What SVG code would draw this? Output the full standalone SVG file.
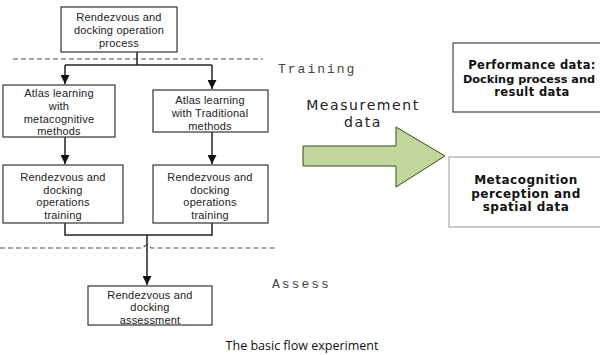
<svg xmlns="http://www.w3.org/2000/svg" width="600" height="355" viewBox="0 0 600 355">
<defs>
<style>
.box{fill:#fff;stroke:#333;stroke-width:1.2}
.t{font-family:"Liberation Sans",Arial,sans-serif;font-size:11px;fill:#222;text-anchor:middle;letter-spacing:0.2px}
.b{font-family:"DejaVu Sans",sans-serif;font-weight:bold;fill:#111;text-anchor:middle}
.m{font-family:"Liberation Mono",monospace;font-size:13px;fill:#444;letter-spacing:2px}
.ln{fill:none;stroke:#222;stroke-width:1.5}
.dash{fill:none;stroke:#555;stroke-width:1.2;stroke-dasharray:5,3}
</style>
<marker id="ah" viewBox="0 0 10 10" refX="10" refY="5" markerWidth="6" markerHeight="6" orient="auto" markerUnits="strokeWidth">
<path d="M0,0 L10,5 L0,10 z" fill="#111"/>
</marker>
</defs>
<rect width="600" height="355" fill="#fff"/>

<g id="separators">
<path class="dash" d="M13,59 H263"/>
<path class="dash" d="M0,248 H143 Q147,242 151,248 H277"/>
<text class="m" x="278" y="73">Training</text>
<text class="m" x="272" y="288">Assess</text>
</g>

<g id="connectors">
<path class="ln" d="M137,52 V65"/>
<path class="ln" d="M65,65 H212"/>
<path class="ln" d="M65,65 V84" marker-end="url(#ah)"/>
<path class="ln" d="M212,65 V89" marker-end="url(#ah)"/>
<path class="ln" d="M65,137 V164" marker-end="url(#ah)"/>
<path class="ln" d="M212,132 V164" marker-end="url(#ah)"/>
<path class="ln" d="M65,223 V235 H212 V223"/>
<path class="ln" d="M147,235 V285" marker-end="url(#ah)"/>
</g>

<g id="n-top">
<rect class="box" x="61" y="7" width="116" height="45"/>
<text class="t" x="119" y="21">Rendezvous and</text>
<text class="t" x="119" y="34">docking operation</text>
<text class="t" x="119" y="47">process</text>
</g>

<g id="n-meta">
<rect class="box" x="3" y="85" width="112" height="52"/>
<text class="t" x="59" y="97">Atlas  learning</text>
<text class="t" x="59" y="110">with</text>
<text class="t" x="59" y="122.7">metacognitive</text>
<text class="t" x="59" y="135.4">methods</text>
</g>

<g id="n-trad">
<rect class="box" x="153" y="90" width="115" height="42"/>
<text class="t" x="210" y="104">Atlas  learning</text>
<text class="t" x="210" y="117">with Traditional</text>
<text class="t" x="210" y="129.7">methods</text>
</g>

<g id="n-train1">
<rect class="box" x="3" y="165" width="120" height="58"/>
<text class="t" x="63" y="181">Rendezvous and</text>
<text class="t" x="63" y="193.7">docking</text>
<text class="t" x="63" y="206.4">operations</text>
<text class="t" x="63" y="219.1">training</text>
</g>

<g id="n-train2">
<rect class="box" x="153" y="165" width="115" height="58"/>
<text class="t" x="210" y="181">Rendezvous and</text>
<text class="t" x="210" y="193.7">docking</text>
<text class="t" x="210" y="206.4">operations</text>
<text class="t" x="210" y="219.1">training</text>
</g>

<g id="n-assess">
<rect class="box" x="88" y="286" width="124" height="39"/>
<text class="t" x="150" y="298.5">Rendezvous and</text>
<text class="t" x="150" y="311.2">docking</text>
<text class="t" x="150" y="323.9">assessment</text>
</g>

<g id="n-measure">
<text x="363" y="110" style="font-family:'DejaVu Sans',sans-serif;font-size:14px;letter-spacing:1.6px;fill:#222;text-anchor:middle">Measurement</text>
<text x="363" y="127" style="font-family:'DejaVu Sans',sans-serif;font-size:14px;letter-spacing:1.6px;fill:#222;text-anchor:middle">data</text>
<path d="M303,146 H396 V127 L445,156 L396,187 V166 H303 Z" fill="#c3d69b" stroke="#3a4a20" stroke-width="1"/>
</g>

<g id="n-perf">
<rect x="453" y="43" width="160" height="69" fill="#fff" stroke="#444" stroke-width="1.2"/>
<text class="b" x="532" y="69" style="font-size:11.5px;letter-spacing:0.4px">Performance data:</text>
<text class="b" x="529" y="82.5" style="font-size:11.3px;letter-spacing:0px">Docking process and</text>
<text class="b" x="532" y="96" style="font-size:11.5px;letter-spacing:0.4px">result data</text>
</g>

<g id="n-metadata">
<rect x="449" y="157" width="160" height="70" fill="#fff" stroke="#aaa" stroke-width="1.2"/>
<text class="b" x="526" y="184" style="font-size:12px;letter-spacing:0.5px">Metacognition</text>
<text class="b" x="526" y="197.5" style="font-size:12px;letter-spacing:0.5px">perception and</text>
<text class="b" x="526" y="211" style="font-size:12px;letter-spacing:0.5px">spatial data</text>
</g>

<text x="302" y="350" style="font-family:'Open Sans','Liberation Sans',sans-serif;font-size:12.5px;fill:#111;text-anchor:middle">The basic flow experiment</text>
</svg>
